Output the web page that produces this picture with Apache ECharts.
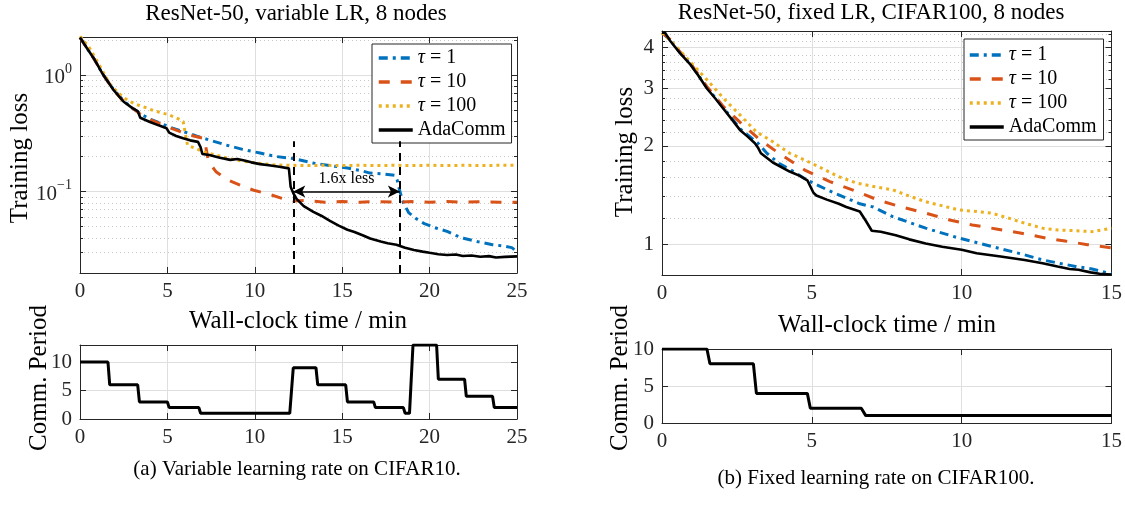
<!DOCTYPE html>
<html><head><meta charset="utf-8">
<script src="https://cdn.jsdelivr.net/npm/echarts@6/dist/echarts.min.js"></script>
<style>html,body{margin:0;padding:0;background:#fff}#c{width:1125px;height:514px}</style>
</head><body><div id="c"></div><script>
// ---------- data (a) variable LR, CIFAR10 ----------
const aTau1 = [[0,2.1],[0.4,1.7],[0.8,1.38],[1.3,1.02],[1.9,0.76],[2.5,0.6],[3.0,0.52],[3.5,0.46],[4.0,0.42],[4.6,0.385],[5.3,0.35],[6.1,0.32],[6.8,0.295],[7.4,0.277],[8.4,0.25],[9.3,0.23],[10.3,0.214],[11.2,0.2],[12.2,0.192],[13.3,0.176],[14.3,0.167],[15.3,0.159],[16.0,0.152],[16.6,0.144],[17.3,0.142],[18.0,0.138],[18.15,0.125],[18.3,0.1],[18.5,0.08],[18.8,0.066],[19.2,0.059],[19.7,0.053],[20.3,0.049],[21.0,0.0455],[21.5,0.042],[22.0,0.0395],[22.8,0.037],[23.6,0.035],[24.3,0.034],[24.7,0.033],[25,0.0305]];
const aTau10 = [[0,2.1],[0.4,1.7],[0.8,1.38],[1.3,1.02],[1.9,0.75],[2.5,0.59],[3.0,0.52],[3.5,0.455],[4.0,0.415],[4.6,0.38],[5.2,0.35],[5.9,0.32],[6.5,0.3],[7.1,0.285],[7.25,0.22],[7.35,0.18],[7.8,0.147],[8.4,0.127],[9.3,0.111],[10.0,0.102],[10.9,0.094],[11.6,0.087],[12.2,0.083],[13.0,0.084],[14,0.081],[15,0.082],[16,0.081],[17,0.082],[18,0.081],[19,0.082],[20,0.081],[21,0.082],[22,0.081],[23,0.082],[24,0.081],[25,0.081]];
const aTau100 = [[0,2.15],[0.5,1.75],[1.0,1.3],[1.7,0.84],[2.2,0.7],[2.7,0.61],[3.2,0.56],[3.6,0.535],[4.3,0.49],[5.0,0.46],[5.5,0.43],[5.9,0.4],[6.05,0.3],[6.15,0.25],[6.6,0.235],[7.05,0.22],[7.8,0.205],[8.5,0.192],[9.3,0.182],[10.2,0.175],[11.2,0.169],[12,0.168],[13,0.167],[14,0.168],[15,0.167],[16,0.168],[17,0.167],[18,0.168],[19,0.167],[20,0.168],[21,0.167],[22,0.168],[23,0.167],[24,0.168],[25,0.168]];
const aAda = [[0,2.1],[0.4,1.7],[0.8,1.38],[1.3,1.02],[1.9,0.75],[2.5,0.59],[3.0,0.52],[3.3,0.49],[3.45,0.43],[4.0,0.395],[4.5,0.37],[4.95,0.35],[5.1,0.32],[5.5,0.30],[5.9,0.287],[6.3,0.275],[6.75,0.267],[6.9,0.24],[7.0,0.21],[7.4,0.206],[8.0,0.195],[8.6,0.187],[9.0,0.19],[9.4,0.185],[9.8,0.178],[10.3,0.172],[10.8,0.168],[11.4,0.163],[11.95,0.158],[12.05,0.11],[12.2,0.097],[12.4,0.086],[12.8,0.075],[13.35,0.067],[13.8,0.062],[14.3,0.056],[14.8,0.051],[15.3,0.047],[15.7,0.045],[16.2,0.042],[16.6,0.0395],[17.2,0.0372],[17.6,0.036],[18.1,0.035],[18.6,0.033],[19.1,0.0315],[19.6,0.0305],[20.0,0.0298],[20.5,0.029],[21.0,0.0285],[21.5,0.0288],[21.9,0.028],[22.4,0.0283],[22.9,0.0276],[23.4,0.0279],[23.8,0.0272],[24.3,0.0275],[25,0.0278]];
const aPeriod = [[0,10],[1.6,10],[1.7,6],[3.3,6],[3.4,3],[5.0,3],[5.1,2],[6.8,2],[6.9,1],[12.0,1],[12.2,9],[13.5,9],[13.6,6],[15.2,6],[15.3,3],[16.8,3],[16.9,2],[18.5,2],[18.6,1],[18.85,1],[19.05,13],[20.4,13],[20.5,7],[22.0,7],[22.1,4],[23.6,4],[23.7,2],[25,2]];
const aMarkTimes = [12.2, 18.3];
const aMarkTop = 0.27;
const aArrowLoss = 0.1;
// ---------- data (b) fixed LR, CIFAR100 ----------
const bTau1 = [[0,4.45],[0.3,4.2],[0.6,3.87],[0.95,3.57],[1.5,3.02],[2.05,2.62],[2.6,2.26],[3.2,2.04],[3.5,1.9],[3.9,1.77],[4.3,1.69],[4.8,1.58],[5.5,1.47],[6.15,1.385],[6.6,1.33],[7.05,1.30],[7.7,1.215],[8.8,1.12],[9.9,1.045],[11.0,0.985],[12.1,0.928],[12.7,0.895],[13.8,0.855],[14.35,0.84],[15,0.812]];
const bTau10 = [[0,4.45],[0.3,4.22],[0.6,3.88],[0.95,3.58],[1.5,3.04],[2.05,2.64],[2.7,2.32],[3.26,2.09],[3.9,1.9],[4.8,1.68],[5.6,1.556],[6.5,1.45],[7.2,1.367],[8.0,1.30],[8.8,1.245],[9.6,1.187],[10.35,1.146],[11.2,1.112],[12.0,1.081],[12.8,1.045],[13.45,1.023],[14.2,0.997],[15,0.975]];
const bTau100 = [[0,4.45],[0.4,4.1],[0.93,3.63],[1.5,3.19],[2.05,2.8],[2.6,2.49],[3.15,2.21],[3.7,2.06],[4.26,1.9],[5.0,1.77],[5.9,1.61],[6.5,1.54],[7.1,1.50],[7.7,1.468],[8.2,1.41],[8.8,1.35],[9.9,1.274],[10.5,1.26],[11.0,1.245],[11.6,1.20],[12.1,1.16],[12.7,1.12],[13.2,1.106],[13.8,1.10],[14.35,1.093],[15,1.12]];
const bAda = [[0,4.45],[0.1,4.45],[0.27,4.2],[0.6,3.85],[0.95,3.55],[1.2,3.3],[1.5,3.0],[1.8,2.78],[2.05,2.6],[2.35,2.4],[2.6,2.24],[2.85,2.14],[3.1,2.04],[3.2,1.98],[3.3,1.9],[3.7,1.78],[4.26,1.67],[4.6,1.62],[4.85,1.57],[5.05,1.44],[5.15,1.41],[5.5,1.37],[5.9,1.33],[6.15,1.30],[6.6,1.26],[6.8,1.18],[7.0,1.10],[7.3,1.092],[7.8,1.065],[8.25,1.035],[8.8,1.005],[9.35,0.983],[10.0,0.962],[10.5,0.938],[11.3,0.917],[12.1,0.895],[12.7,0.875],[13.2,0.855],[13.6,0.84],[13.9,0.835],[14.3,0.82],[14.6,0.812],[15,0.808]];
const bPeriod = [[0,10],[1.5,10],[1.6,8],[3.05,8],[3.15,4],[4.85,4],[4.95,2],[6.65,2],[6.8,1],[15,1]];
// ---------- ticks ----------
const aLossMajor = [0.1, 1];
const aLossMinor = [0.03,0.04,0.05,0.06,0.07,0.08,0.09,0.2,0.3,0.4,0.5,0.6,0.7,0.8,0.9,2];
const bLossMajor = [1, 2, 3, 4];
const bLossMinor = [1.2,1.4,1.6,1.8,2.2,2.4,2.6,2.8,3.2,3.4,3.6,3.8,4.2,4.4];
const periodTicks = [0, 5, 10];
const seriesNames = ['τ = 1', 'τ = 10', 'τ = 100', 'AdaComm'];

const FONT = 'Liberation Serif';
const AX = '#262626', GRIDC = '#dfdfdf', MINORC = '#c8c8c8';
const C1 = '#0072BD', C10 = '#D95319', C100 = '#EDB120';

function xAx(gi, max, top) {
  return {
    type: 'value', gridIndex: gi, min: 0, max: max, interval: 5, position: top ? 'top' : 'bottom',
    axisLine: {show: true, onZero: false, lineStyle: {color: AX, width: 1}},
    axisTick: {show: true, inside: true, length: 6, lineStyle: {color: AX}},
    axisLabel: {show: !top, fontFamily: FONT, fontSize: 21, color: AX, margin: 8},
    splitLine: {show: !top, lineStyle: {color: GRIDC, width: 1}}
  };
}
function logAx(gi, min, max, vals, right, minor, fmt) {
  return {
    type: 'log', logBase: 10, gridIndex: gi, min: min, max: max, position: right ? 'right' : 'left',
    axisLine: {show: !minor, onZero: false, lineStyle: {color: AX, width: 1}},
    axisTick: {show: true, inside: true, length: minor ? 3 : 6, customValues: vals, lineStyle: {color: AX}},
    axisLabel: {show: !right && !minor, customValues: vals, fontFamily: FONT, fontSize: 21, color: AX, margin: 8,
      formatter: fmt, rich: {
        b: {fontFamily: FONT, fontSize: 21, color: AX, lineHeight: 26, verticalAlign: 'bottom'},
        s: {fontFamily: FONT, fontSize: 14, color: AX, lineHeight: 26, verticalAlign: 'top'}
      }},
    splitLine: {show: !right, lineStyle: minor ? {color: MINORC, width: 1, type: [1, 3]} : {color: GRIDC, width: 1}}
  };
}
function linAx(gi, max, right) {
  return {
    type: 'value', gridIndex: gi, min: 0, max: max, position: right ? 'right' : 'left',
    axisLine: {show: true, onZero: false, lineStyle: {color: AX, width: 1}},
    axisTick: {show: true, inside: true, length: 6, customValues: periodTicks, lineStyle: {color: AX}},
    axisLabel: {show: !right, customValues: periodTicks, fontFamily: FONT, fontSize: 21, color: AX, margin: 8},
    splitLine: {show: !right, lineStyle: {color: GRIDC, width: 1}}
  };
}
const expFmt = v => v > 0.5 ? '{b|10}{s|0}' : '{b|10}{s|−1}';

function lines(xi, yi, d1, d10, d100, dA, extra) {
  const base = {type: 'line', xAxisIndex: xi, yAxisIndex: yi, symbol: 'none', showSymbol: false, z: 3, silent: true};
  return [
    Object.assign({}, base, {name: seriesNames[0], data: d1, lineStyle: {color: C1, width: 3, type: [9, 5, 3, 5]}, itemStyle: {color: C1}}),
    Object.assign({}, base, {name: seriesNames[1], data: d10, lineStyle: {color: C10, width: 3, type: [11, 11]}, itemStyle: {color: C10}}),
    Object.assign({}, base, {name: seriesNames[2], data: d100, lineStyle: {color: C100, width: 3, type: [3, 4]}, itemStyle: {color: C100}}),
    Object.assign({}, base, {name: seriesNames[3], data: dA, z: 4, lineStyle: {color: '#000', width: 2.6}, itemStyle: {color: '#000'}}, extra || {})
  ];
}

const annot = {
  markLine: {
    silent: true, symbol: ['none', 'none'], animation: false,
    label: {show: false},
    data: [
      [{coord: [aMarkTimes[0], 0.02]}, {coord: [aMarkTimes[0], aMarkTop]}],
      [{coord: [aMarkTimes[1], 0.02]}, {coord: [aMarkTimes[1], aMarkTop]}],
      [{coord: [aMarkTimes[0], aArrowLoss], symbol: 'arrow', symbolSize: [9, 12],
        lineStyle: {type: 'solid', width: 1.6, color: '#000'},
        label: {show: true, formatter: '1.6x less', position: 'insideMiddleTop', distance: 5, fontFamily: FONT, fontSize: 16, color: '#000'}},
       {coord: [aMarkTimes[1], aArrowLoss], symbol: 'arrow', symbolSize: [9, 12]}]
    ],
    lineStyle: {color: '#000', width: 2, type: [8, 6]}
  }
};

const legendBase = {
  orient: 'vertical', backgroundColor: '#fff', borderColor: AX, borderWidth: 1, borderRadius: 0,
  itemWidth: 34, itemHeight: 20, itemGap: 4, data: seriesNames, selectedMode: false,
  itemStyle: {opacity: 0, borderWidth: 0},
  lineStyle: {width: 3.5},
  formatter: n => n.replace('τ', '{i|τ}'),
  textStyle: {fontFamily: FONT, fontSize: 20, color: '#000', lineHeight: 20,
    rich: {i: {fontFamily: FONT, fontSize: 20, fontStyle: 'italic', color: '#000', lineHeight: 20}}}
};

function txt(x, y, text, size, rot) {
  return {type: 'text', x: x, y: y, rotation: rot ? Math.PI / 2 : 0, silent: true,
    style: {text: text, x: 0, y: 0, font: size + 'px "' + FONT + '"', fill: '#000', align: 'center', verticalAlign: 'middle'}};
}

const option = {
  animation: false,
  backgroundColor: '#fff',
  grid: [
    {left: 80, top: 37, width: 437, height: 236},
    {left: 80, top: 345, width: 437, height: 74},
    {left: 662, top: 31, width: 451, height: 244},
    {left: 662, top: 349, width: 451, height: 74}
  ],
  xAxis: [xAx(0, 25, false), xAx(0, 25, true), xAx(1, 25, false), xAx(1, 25, true),
          xAx(2, 15, false), xAx(2, 15, true), xAx(3, 15, false), xAx(3, 15, true)],
  yAxis: [
    logAx(0, 0.02, 2.12, aLossMajor, false, false, expFmt),
    logAx(0, 0.02, 2.12, aLossMinor, false, true),
    logAx(0, 0.02, 2.12, aLossMajor, true, false),
    logAx(0, 0.02, 2.12, aLossMinor, true, true),
    linAx(1, 13, false), linAx(1, 13, true),
    logAx(2, 0.805, 4.5, bLossMajor, false, false, v => String(Math.round(v))),
    logAx(2, 0.805, 4.5, bLossMinor, false, true),
    logAx(2, 0.805, 4.5, bLossMajor, true, false),
    logAx(2, 0.805, 4.5, bLossMinor, true, true),
    {type: 'value', gridIndex: 3, min: 0, max: 10, interval: 5,
      axisLine: {show: true, onZero: false, lineStyle: {color: AX}},
      axisTick: {inside: true, length: 6, lineStyle: {color: AX}},
      axisLabel: {fontFamily: FONT, fontSize: 21, color: AX, margin: 8},
      splitLine: {lineStyle: {color: GRIDC}}},
    {type: 'value', gridIndex: 3, min: 0, max: 10, interval: 5, position: 'right',
      axisLine: {show: true, onZero: false, lineStyle: {color: AX}},
      axisTick: {inside: true, length: 6, lineStyle: {color: AX}},
      axisLabel: {show: false}, splitLine: {show: false}}
  ],
  legend: [
    Object.assign({}, legendBase, {left: 372, top: 44, padding: [4, 6, 3, 5]}),
    Object.assign({}, legendBase, {left: 964, top: 39, padding: [6, 7, 3, 4]})
  ],
  series: [].concat(
    lines(0, 0, aTau1, aTau10, aTau100, aAda, annot),
    [{type: 'line', name: 'period-a', xAxisIndex: 2, yAxisIndex: 4, data: aPeriod, symbol: 'none', z: 4, silent: true, lineStyle: {color: '#000', width: 3}}],
    lines(4, 6, bTau1, bTau10, bTau100, bAda),
    [{type: 'line', name: 'period-b', xAxisIndex: 6, yAxisIndex: 10, data: bPeriod, symbol: 'none', z: 4, silent: true, lineStyle: {color: '#000', width: 3}}]
  ),
  graphic: [
    txt(296, 14, 'ResNet-50, variable LR, 8 nodes', 23),
    txt(871, 13, 'ResNet-50, fixed LR, CIFAR100, 8 nodes', 23),
    txt(20, 158, 'Training loss', 25, true),
    txt(625, 152, 'Training loss', 25, true),
    txt(298, 321, 'Wall-clock time / min', 25),
    txt(887, 325, 'Wall-clock time / min', 25),
    txt(39, 378, 'Comm. Period', 25, true),
    txt(620, 378, 'Comm. Period', 25, true),
    txt(297, 469, '(a) Variable learning rate on CIFAR10.', 21),
    txt(876, 478, '(b) Fixed learning rate on CIFAR100.', 21)
  ]
};
const chart = echarts.init(document.getElementById('c'), null, {renderer: 'canvas'});
chart.setOption(option);
</script></body></html>
